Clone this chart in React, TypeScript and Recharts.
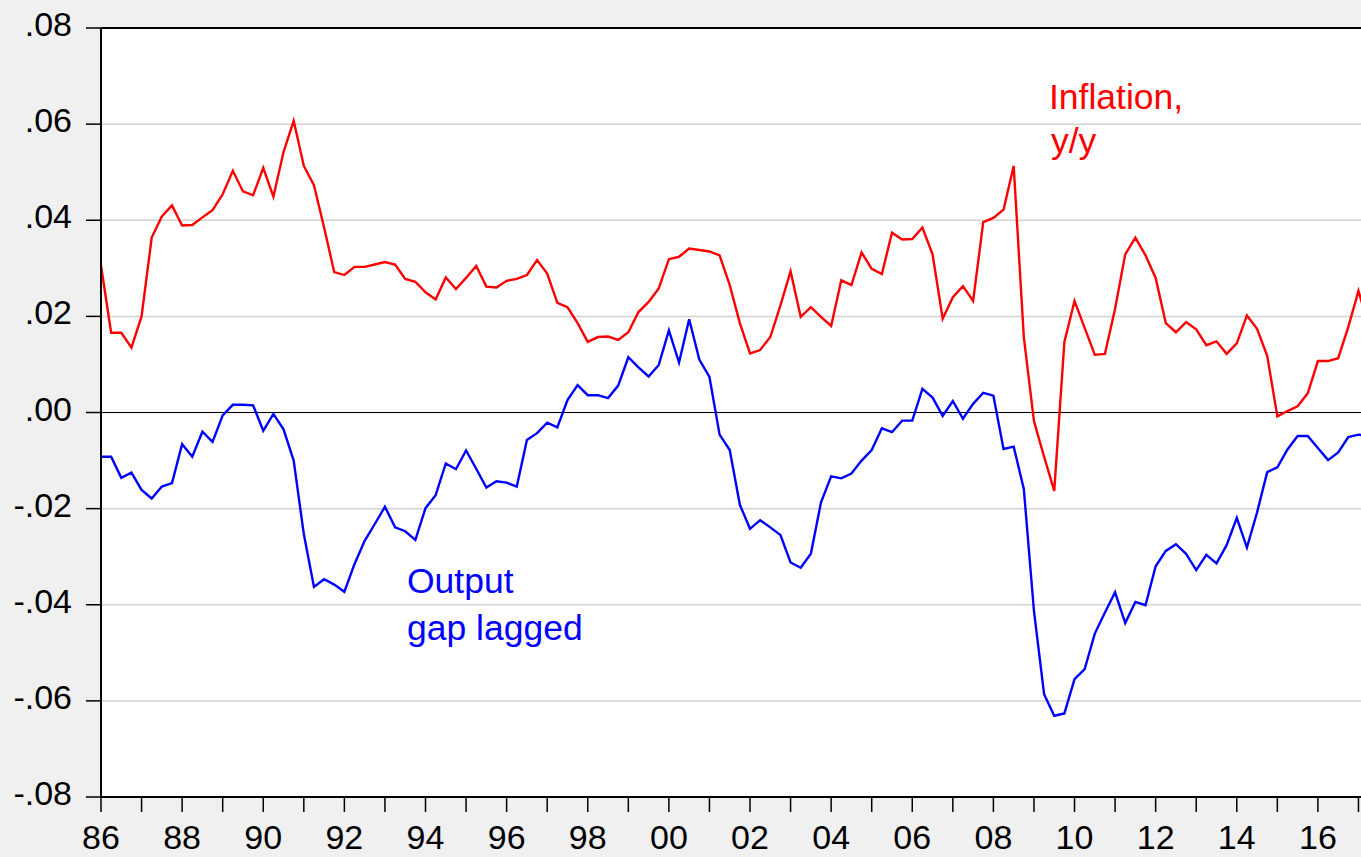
import React from 'react';
import { LineChart, Line, XAxis, YAxis, CartesianGrid, ReferenceLine } from 'recharts';

// quarterly, 1986Q1 onwards (index 0 = 1986Q1)
const inflation = [
  0.0306, 0.0166, 0.0166, 0.0135, 0.0200, 0.0364, 0.0408, 0.0431,
  0.0389, 0.0390, 0.0406, 0.0421, 0.0454, 0.0503, 0.0460, 0.0452,
  0.0509, 0.0449, 0.0542, 0.0607, 0.0513, 0.0473, 0.0385, 0.0292,
  0.0286, 0.0303, 0.0303, 0.0308, 0.0313, 0.0308, 0.0278, 0.0272,
  0.0250, 0.0235, 0.0281, 0.0257, 0.0280, 0.0305, 0.0262, 0.0260,
  0.0274, 0.0278, 0.0286, 0.0317, 0.0289, 0.0228, 0.0219, 0.0186,
  0.0147, 0.0157, 0.0158, 0.0151, 0.0167, 0.0209, 0.0230, 0.0258,
  0.0319, 0.0324, 0.0341, 0.0338, 0.0335, 0.0327, 0.0265, 0.0186,
  0.0123, 0.0130, 0.0157, 0.0223, 0.0294, 0.0199, 0.0219, 0.0199,
  0.0180, 0.0275, 0.0265, 0.0333, 0.0299, 0.0288, 0.0374, 0.0360,
  0.0361, 0.0385, 0.0329, 0.0195, 0.0240, 0.0263, 0.0232, 0.0396,
  0.0405, 0.0422, 0.0513, 0.0157, -0.0018, -0.0092, -0.0163, 0.0147,
  0.0232, 0.0176, 0.0120, 0.0122, 0.0216, 0.0329, 0.0364, 0.0327,
  0.0280, 0.0186, 0.0167, 0.0188, 0.0173, 0.0140, 0.0148, 0.0122,
  0.0144, 0.0202, 0.0174, 0.0118, -0.0008, 0.0003, 0.0013, 0.0040,
  0.0107, 0.0107, 0.0113, 0.0178, 0.0253, 0.0180,
];

const outputGap = [
  -0.0092, -0.0092, -0.0136, -0.0125, -0.0161, -0.0179, -0.0154, -0.0147,
  -0.0066, -0.0092, -0.0040, -0.0061, -0.0006, 0.0016, 0.0016, 0.0015,
  -0.0038, -0.0003, -0.0035, -0.0100, -0.0253, -0.0363, -0.0347, -0.0358,
  -0.0373, -0.0315, -0.0267, -0.0232, -0.0196, -0.0239, -0.0247, -0.0265,
  -0.0199, -0.0172, -0.0106, -0.0118, -0.0079, -0.0117, -0.0156, -0.0143,
  -0.0146, -0.0154, -0.0057, -0.0043, -0.0021, -0.0031, 0.0026, 0.0057,
  0.0036, 0.0036, 0.0030, 0.0056, 0.0115, 0.0094, 0.0075, 0.0099,
  0.0171, 0.0104, 0.0194, 0.0110, 0.0074, -0.0046, -0.0078, -0.0192,
  -0.0242, -0.0224, -0.0239, -0.0255, -0.0312, -0.0323, -0.0294, -0.0187,
  -0.0133, -0.0137, -0.0127, -0.0100, -0.0078, -0.0033, -0.0041, -0.0017,
  -0.0017, 0.0049, 0.0031, -0.0007, 0.0024, -0.0013, 0.0018, 0.0041,
  0.0035, -0.0076, -0.0071, -0.0159, -0.0413, -0.0586, -0.0631, -0.0626,
  -0.0555, -0.0534, -0.0460, -0.0416, -0.0374, -0.0438, -0.0394, -0.0401,
  -0.0320, -0.0288, -0.0274, -0.0294, -0.0328, -0.0296, -0.0314, -0.0276,
  -0.0219, -0.0281, -0.0208, -0.0124, -0.0114, -0.0077, -0.0049, -0.0049,
  -0.0074, -0.0099, -0.0083, -0.0051, -0.0046, -0.0050,
];

// one tick per year, label every second year
const yearLabels = [
  '86', '', '88', '', '90', '', '92', '', '94', '', '96', '', '98', '', '00', '',
  '02', '', '04', '', '06', '', '08', '', '10', '', '12', '', '14', '', '16', '',
];
const yTicks = [-0.08, -0.06, -0.04, -0.02, 0, 0.02, 0.04, 0.06, 0.08];

const FONT = '"Liberation Sans", Arial, sans-serif';
const W = 1361;
const H = 857;

const data = inflation.map((v, i) => ({ t: i, inflation: v, gap: outputGap[i] }));
const xTicks = yearLabels.map((_, i) => i * 4);

const fmtY = (v: number) => {
  const s = Math.abs(v).toFixed(2).replace(/^0/, '');
  return v < -1e-9 ? '-' + s : s;
};

const YTick = (props: any) => {
  const { x, y, payload } = props;
  return (
    <text x={x} y={y} dy={8} textAnchor="end" fontSize={34} fontFamily={FONT} fill="#000">
      {fmtY(payload.value)}
    </text>
  );
};

const XTick = (props: any) => {
  const { x, y, payload } = props;
  const label = yearLabels[Math.round(payload.value / 4)] || '';
  return (
    <text x={x} y={y} dy={24} textAnchor="middle" fontSize={34} fontFamily={FONT} fill="#000">
      {label}
    </text>
  );
};

const App: React.FC = () => {
  return (
    <div style={{ position: 'fixed', left: 0, top: 0, width: W, height: H, background: '#f0f0f0', overflow: 'hidden' }}>
      <LineChart width={W} height={H} data={data} margin={{ top: 28, right: 0, left: 0, bottom: 0 }}>
        <CartesianGrid vertical={false} stroke="#d2d2d2" strokeWidth={1.5} fill="#ffffff" fillOpacity={1} />
        <XAxis
          type="number"
          dataKey="t"
          domain={[0, 124.25]}
          allowDataOverflow
          ticks={xTicks}
          interval={0}
          height={60}
          tickSize={15}
          tickMargin={13}
          axisLine={{ stroke: '#000', strokeWidth: 2 }}
          tickLine={{ stroke: '#000', strokeWidth: 1.5 }}
          tick={<XTick />}
        />
        <YAxis
          domain={[-0.08, 0.08]}
          ticks={yTicks}
          interval={0}
          width={101}
          tickSize={15}
          tickMargin={14}
          axisLine={{ stroke: '#000', strokeWidth: 2 }}
          tickLine={{ stroke: '#000', strokeWidth: 1.5 }}
          tick={<YTick />}
        />
        <ReferenceLine y={0} stroke="#000" strokeWidth={1.2} />
        <ReferenceLine y={0.08} stroke="#000" strokeWidth={2} />
        <Line type="linear" dataKey="inflation" stroke="#ff0000" strokeWidth={2.4} dot={false} isAnimationActive={false} />
        <Line type="linear" dataKey="gap" stroke="#0000ff" strokeWidth={2.4} dot={false} isAnimationActive={false} />
      </LineChart>
      <svg width={W} height={H} style={{ position: 'absolute', left: 0, top: 0, pointerEvents: 'none' }}>
        <text fontFamily={FONT} fontSize={35.5} fill="#ff0000">
          <tspan x={1049} y={109}>Inflation,</tspan>
          <tspan x={1051} y={153}>y/y</tspan>
        </text>
        <text fontFamily={FONT} fontSize={35.5} fill="#0000ff">
          <tspan x={407} y={593}>Output</tspan>
          <tspan x={407} y={640}>gap lagged</tspan>
        </text>
      </svg>
    </div>
  );
};

export default App;
